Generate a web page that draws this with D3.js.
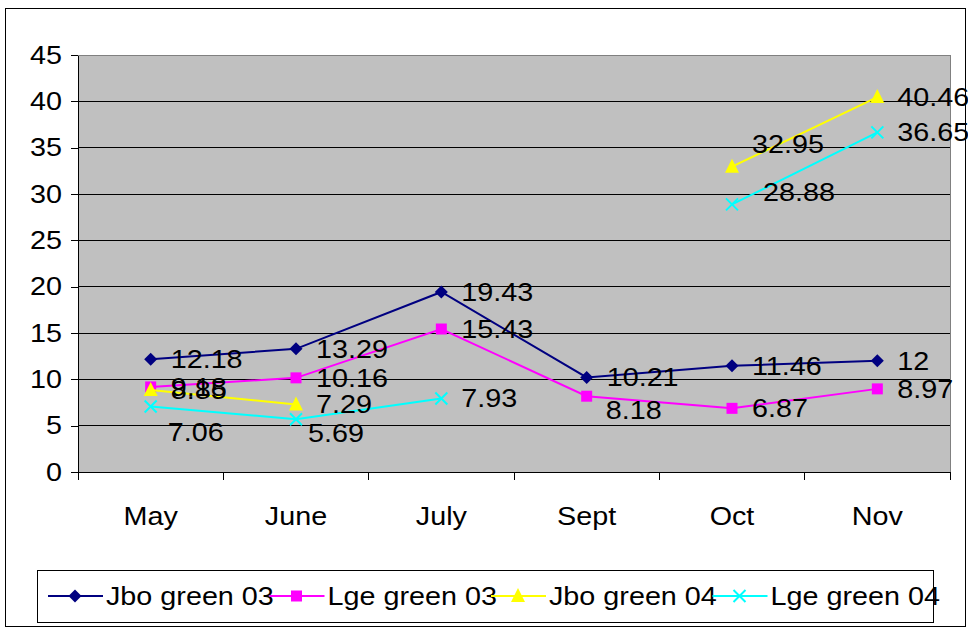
<!DOCTYPE html>
<html>
<head>
<meta charset="utf-8">
<script src="https://cdn.jsdelivr.net/npm/d3@7"></script>
<style>
body { margin: 0; background: #fff; }
text { font-family: 'Liberation Sans', Arial, sans-serif; font-size: 25px; fill: #000; }
</style>
</head>
<body>
<script>
var categories = ['May', 'June', 'July', 'Sept', 'Oct', 'Nov'];
var jboGreen03 = [12.18, 13.29, 19.43, 10.21, 11.46, 12];
var lgeGreen03 = [9.18, 10.16, 15.43, 8.18, 6.87, 8.97];
var jboGreen04 = [8.85, 7.29, null, null, 32.95, 40.46];
var lgeGreen04 = [7.06, 5.69, 7.93, null, 28.88, 36.65];
var seriesNames = ['Jbo green 03', 'Lge green 03', 'Jbo green 04', 'Lge green 04'];
var yTicks = [0, 5, 10, 15, 20, 25, 30, 35, 40, 45];

var seriesValues = [jboGreen03, lgeGreen03, jboGreen04, lgeGreen04];
var seriesColors = ['#000080', '#ff00ff', '#ffff00', '#00ffff'];
var seriesMarkers = ['diamond', 'square', 'triangle', 'cross'];

// labels that were moved by hand in the original chart
var labelMoves = {
	'3-0': { dx: 17, dy: 26 },
	'3-1': { dx: 12, dy: 14 },
	'1-3': { dx: 19, dy: 14 },
	'2-4': { dx: 20, dy: -22 },
	'3-4': { dx: 31, dy: -12 }
};

var STRETCH = 'scale(1.15,1)';
var W = 968, H = 629;
var plot = { left: 78, top: 55, right: 950, bottom: 472 };

var svg = d3.select('body').append('svg').attr('width', W).attr('height', H);

svg.append('rect')
	.attr('x', 5.5).attr('y', 8.5)
	.attr('width', 960).attr('height', 618)
	.attr('fill', '#fff').attr('stroke', '#000');

var x = d3.scaleBand().domain(categories).range([ plot.left, plot.right ]);
var y = d3.scaleLinear().domain([ 0, 45 ]).range([ plot.bottom, plot.top ]);

function cx(i) {
	return x(categories[i]) + x.bandwidth() / 2;
}

svg.append('rect')
	.attr('x', plot.left).attr('y', plot.top + 0.5)
	.attr('width', plot.right - plot.left).attr('height', plot.bottom - plot.top)
	.attr('fill', '#c0c0c0').attr('stroke', '#808080')
	.attr('shape-rendering', 'crispEdges');

svg.append('g').selectAll('line')
	.data(yTicks.filter(function(d) { return d > 0 && d < 45; }))
	.enter().append('line')
	.attr('x1', plot.left).attr('x2', plot.right)
	.attr('y1', function(d) { return y(d); })
	.attr('y2', function(d) { return y(d); })
	.attr('stroke', '#000')
	.attr('shape-rendering', 'crispEdges');

var yAxis = svg.append('g')
	.attr('transform', 'translate(' + plot.left + ',0)')
	.call(d3.axisLeft(y).tickValues(yTicks).tickSize(7).tickPadding(7).tickSizeOuter(0));
yAxis.selectAll('path, line').attr('stroke', '#000').attr('shape-rendering', 'crispEdges');
yAxis.selectAll('text').attr('font-size', null).attr('font-family', null).attr('transform', STRETCH);
yAxis.attr('font-size', null).attr('font-family', null);

var xAxis = svg.append('g')
	.attr('transform', 'translate(0,' + plot.bottom + ')')
	.call(d3.axisBottom(x).tickSize(0).tickPadding(35).tickSizeOuter(0));
xAxis.selectAll('path').attr('stroke', '#000').attr('shape-rendering', 'crispEdges');
xAxis.selectAll('text').attr('transform', STRETCH);
xAxis.attr('font-size', null).attr('font-family', null);

var edges = categories.map(function(c) { return x(c); }).concat([ x.range()[1] ]);
xAxis.selectAll('.edge')
	.data(edges)
	.enter().append('line')
	.attr('class', 'edge')
	.attr('x1', function(d) { return d; })
	.attr('x2', function(d) { return d; })
	.attr('y1', 0).attr('y2', 8)
	.attr('stroke', '#000')
	.attr('shape-rendering', 'crispEdges');

function markerPath(type) {
	if (type == 'diamond') return 'M0,-6.5L6.5,0L0,6.5L-6.5,0Z';
	if (type == 'square') return 'M-5.5,-5.5H5.5V5.5H-5.5Z';
	if (type == 'triangle') return 'M0,-8L7,6H-7Z';
	return 'M-6,-6L6,6M-6,6L6,-6';
}

function drawMarker(g, type, color) {
	var p = g.append('path').attr('d', markerPath(type));
	if (type == 'cross') {
		p.attr('fill', 'none').attr('stroke', color).attr('stroke-width', 2);
	} else {
		p.attr('fill', color);
	}
}

var line = d3.line()
	.defined(function(d) { return d.v != null; })
	.x(function(d) { return cx(d.i); })
	.y(function(d) { return y(d.v); });

seriesValues.forEach(function(vals, s) {
	var pts = vals.map(function(v, i) { return { v: v, i: i }; });
	svg.append('path')
		.datum(pts)
		.attr('d', line)
		.attr('fill', 'none')
		.attr('stroke', seriesColors[s])
		.attr('stroke-width', 2);
	pts.filter(function(d) { return d.v != null; }).forEach(function(d) {
		var g = svg.append('g').attr('transform', 'translate(' + cx(d.i) + ',' + y(d.v) + ')');
		drawMarker(g, seriesMarkers[s], seriesColors[s]);
	});
});

seriesValues.forEach(function(vals, s) {
	vals.forEach(function(v, i) {
		if (v == null) return;
		var mv = labelMoves[s + '-' + i] || { dx: 20, dy: 0 };
		svg.append('text')
			.attr('transform', 'translate(' + (cx(i) + mv.dx) + ',' + (y(v) + mv.dy) + ') ' + STRETCH)
			.attr('dy', '0.35em')
			.text(String(v));
	});
});

// legend
svg.append('rect')
	.attr('x', 37.5).attr('y', 570.5)
	.attr('width', 896).attr('height', 52)
	.attr('fill', '#fff').attr('stroke', '#000');

var legendY = 596;
seriesNames.forEach(function(name, s) {
	var lx = 48 + s * 221.5;
	svg.append('line')
		.attr('x1', lx).attr('x2', lx + 55)
		.attr('y1', legendY).attr('y2', legendY)
		.attr('stroke', seriesColors[s]).attr('stroke-width', 2);
	var g = svg.append('g').attr('transform', 'translate(' + (lx + 27) + ',' + legendY + ')');
	drawMarker(g, seriesMarkers[s], seriesColors[s]);
	svg.append('text')
		.attr('transform', 'translate(' + (lx + 58) + ',' + legendY + ') ' + STRETCH)
		.attr('dy', '0.35em')
		.text(name);
});
</script>
</body>
</html>
